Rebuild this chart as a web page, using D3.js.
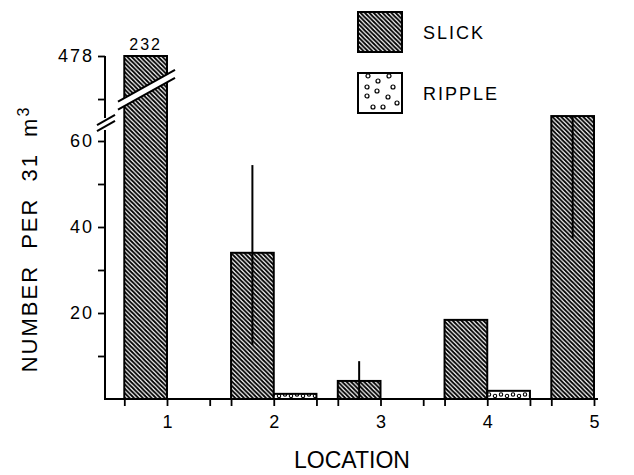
<!DOCTYPE html>
<meta charset="utf-8">
<script src="https://d3js.org/d3.v7.min.js"></script>
<style>
  body { margin: 0; background: #fff; }
  text { font-family: "Liberation Sans", Arial, Helvetica, sans-serif; fill: #000; }
</style>
<div id="d3chart"></div>
<script>
    // data
    var locations = [1, 2, 3, 4, 5];
    var slick = [478, 34, 4.2, 18.4, 65.8];
    var ripple = [0, 1.2, 0, 1.9, 0];
    var slickErrLow = [null, 12.6, 0, null, 37.4];
    var slickErrHigh = [null, 54.4, 8.8, null, 65.8];
    var yTicks = [10, 20, 30, 40, 50, 60];
    var yLabels = [20, 40, 60];
    var yTopTicks = [400, 478];
    var yTopLabels = [478];
    var bar1Label = "232";
    var seriesNames = ["SLICK", "RIPPLE"];

    var W = 634, H = 475;
    var svg = d3.select("#d3chart")
        .append("svg")
        .attr("width", W)
        .attr("height", H);

    var axisX = 105, base = 399;

    // lower scale (0-60) and the part above the break
    var y = d3.scaleLinear().domain([0, 60]).range([base, 141]);
    var yTop = d3.scaleLinear().domain([362, 478]).range([120, 56]);
    function yv(v) { return v >= yTop.domain()[0] ? yTop(v) : y(v); }

    var x = d3.scaleLinear().domain([1, 5]).range([167, 594]);
    var half = 0.4;
    var bw = x(1 + half) - x(1);

    // patterns
    var defs = svg.append("defs");
    defs.append("pattern")
        .attr("id", "hatch")
        .attr("patternUnits", "userSpaceOnUse")
        .attr("width", 4.4).attr("height", 4.4)
        .append("path")
        .attr("d", "M-1,-1 l6.4,6.4 M-1,3.4 l2,2 M3.4,-1 l2,2")
        .attr("stroke", "#000")
        .attr("stroke-width", 1.9);

    var dots = defs.append("pattern")
        .attr("id", "dots")
        .attr("patternUnits", "userSpaceOnUse")
        .attr("x", 0).attr("y", base - 9)
        .attr("width", 12).attr("height", 9);
    dots.append("rect").attr("width", 12).attr("height", 9).attr("fill", "#fff");
    [[3, 6], [9, 4.5]].forEach(function(p) {
        dots.append("circle").attr("cx", p[0]).attr("cy", p[1]).attr("r", 1.7)
            .attr("fill", "none").attr("stroke", "#000").attr("stroke-width", 1.1);
    });

    var legendDots = defs.append("pattern")
        .attr("id", "legendDots")
        .attr("patternUnits", "userSpaceOnUse")
        .attr("x", 358).attr("y", 73)
        .attr("width", 44).attr("height", 40);
    legendDots.append("rect").attr("width", 44).attr("height", 40).attr("fill", "#fff");
    [[10, 3], [31, 3], [20, 8], [35, 14], [9, 14], [19, 18], [9, 23], [30, 24], [39, 30], [15, 34], [25, 34]]
        .forEach(function(p) {
            legendDots.append("circle").attr("cx", p[0]).attr("cy", p[1]).attr("r", 2)
                .attr("fill", "none").attr("stroke", "#000").attr("stroke-width", 1.2);
        });

    // slick bars
    svg.append("g")
        .selectAll("rect")
        .data(locations)
        .enter()
        .append("rect")
        .attr("x", function(d) { return x(d - half); })
        .attr("y", function(d, i) { return yv(slick[i]); })
        .attr("width", bw)
        .attr("height", function(d, i) { return base - yv(slick[i]); })
        .attr("fill", "url(#hatch)")
        .attr("stroke", "#000")
        .attr("stroke-width", 2);

    // ripple bars
    svg.append("g")
        .selectAll("rect")
        .data(locations.filter(function(d, i) { return ripple[i] > 0; }))
        .enter()
        .append("rect")
        .attr("x", function(d) { return x(d); })
        .attr("y", function(d) { return y(ripple[d - 1]); })
        .attr("width", bw)
        .attr("height", function(d) { return base - y(ripple[d - 1]); })
        .attr("fill", "url(#dots)")
        .attr("stroke", "#000")
        .attr("stroke-width", 2);

    // error bars
    svg.append("g")
        .selectAll("line")
        .data(locations.filter(function(d, i) { return slickErrLow[i] !== null; }))
        .enter()
        .append("line")
        .attr("x1", function(d) { return x(d - half / 2); })
        .attr("x2", function(d) { return x(d - half / 2); })
        .attr("y1", function(d) { return y(slickErrLow[d - 1]); })
        .attr("y2", function(d) { return y(slickErrHigh[d - 1]); })
        .attr("stroke", "#000")
        .attr("stroke-width", 2);

    // value above the broken bar
    svg.append("text")
        .attr("x", x(1 - half / 2))
        .attr("y", yTop(478) - 6)
        .attr("text-anchor", "middle")
        .attr("font-size", 16)
        .attr("letter-spacing", 2)
        .text(bar1Label);

    // X axis
    var xTickVals = [];
    locations.forEach(function(d) { xTickVals.push(d - half, d, d + half); });
    var gx = svg.append("g")
        .attr("transform", "translate(0," + base + ")")
        .call(d3.axisBottom(x)
            .tickValues(xTickVals)
            .tickSize(7)
            .tickFormat(function(d) { return Math.abs(d - Math.round(d)) < 1e-6 ? d : ""; }));
    gx.select(".domain").remove();
    gx.selectAll(".tick line").attr("stroke", "#000").attr("stroke-width", 1.8);
    gx.selectAll("text")
        .attr("y", 29).attr("dy", null)
        .attr("font-size", 18)
        .attr("fill", "#000")
        .style("font-family", "Liberation Sans, Arial, sans-serif");
    svg.append("line")
        .attr("x1", axisX - 1).attr("x2", x(5) + 4)
        .attr("y1", base).attr("y2", base)
        .attr("stroke", "#000").attr("stroke-width", 2);

    // Y axis (lower part)
    var gy = svg.append("g")
        .attr("transform", "translate(" + axisX + ",0)")
        .call(d3.axisLeft(y)
            .tickValues(yTicks)
            .tickSize(7)
            .tickPadding(4)
            .tickFormat(function(d) { return yLabels.indexOf(d) >= 0 ? d : ""; }));
    // Y axis (above the break)
    var gy2 = svg.append("g")
        .attr("transform", "translate(" + axisX + ",0)")
        .call(d3.axisLeft(yTop)
            .tickValues(yTopTicks)
            .tickSize(7)
            .tickPadding(4)
            .tickFormat(function(d) { return yTopLabels.indexOf(d) >= 0 ? d : ""; }));
    [gy, gy2].forEach(function(g) {
        g.select(".domain").remove();
        g.selectAll(".tick line").attr("stroke", "#000").attr("stroke-width", 1.8);
        g.selectAll("text")
            .attr("font-size", 18)
            .attr("letter-spacing", 2)
            .attr("fill", "#000")
            .style("font-family", "Liberation Sans, Arial, sans-serif");
    });
    svg.append("line")
        .attr("x1", axisX).attr("x2", axisX)
        .attr("y1", base + 1).attr("y2", 130)
        .attr("stroke", "#000").attr("stroke-width", 2);
    svg.append("line")
        .attr("x1", axisX).attr("x2", axisX)
        .attr("y1", 118).attr("y2", yTop(478))
        .attr("stroke", "#000").attr("stroke-width", 2);

    // break marks
    function breakBand(x0, x1, yc, xc, gap) {
        var s = -0.56;
        var ya = yc + s * (x0 - xc), yb = yc + s * (x1 - xc);
        var gB = svg.append("g");
        gB.append("path")
            .attr("d", "M" + x0 + "," + (ya - gap / 2) + "L" + x1 + "," + (yb - gap / 2) +
                "L" + x1 + "," + (yb + gap / 2) + "L" + x0 + "," + (ya + gap / 2) + "Z")
            .attr("fill", "#fff");
        [-gap / 2, gap / 2].forEach(function(o) {
            gB.append("line")
                .attr("x1", x0).attr("y1", ya + o)
                .attr("x2", x1).attr("y2", yb + o)
                .attr("stroke", "#000").attr("stroke-width", 2);
        });
    }
    breakBand(97, 115, 123, 106, 6);
    breakBand(118, 175, 90, 146, 8);

    // Y axis title
    var yt = svg.append("text")
        .attr("transform", "translate(37,239) rotate(-90)")
        .attr("text-anchor", "middle")
        .attr("font-size", 22)
        .attr("letter-spacing", 2)
        .attr("word-spacing", 8)
        .text("NUMBER PER 31 m");
    yt.append("tspan")
        .attr("baseline-shift", "super")
        .attr("font-size", 16)
        .text("3");

    // X axis title
    svg.append("text")
        .attr("x", 352)
        .attr("y", 468)
        .attr("text-anchor", "middle")
        .attr("font-size", 23)
        .text("LOCATION");

    // legend
    var legendFill = ["url(#hatch)", "url(#legendDots)"];
    var legendY = [12, 73];
    var lg = svg.append("g");
    lg.selectAll("rect")
        .data(seriesNames)
        .enter()
        .append("rect")
        .attr("x", 358)
        .attr("y", function(d, i) { return legendY[i]; })
        .attr("width", 44)
        .attr("height", 40)
        .attr("fill", function(d, i) { return legendFill[i]; })
        .attr("stroke", "#000")
        .attr("stroke-width", 2);
    lg.selectAll("text")
        .data(seriesNames)
        .enter()
        .append("text")
        .attr("x", 423)
        .attr("y", function(d, i) { return legendY[i] + 27; })
        .attr("font-size", 18)
        .attr("letter-spacing", 2)
        .text(function(d) { return d; });
</script>
